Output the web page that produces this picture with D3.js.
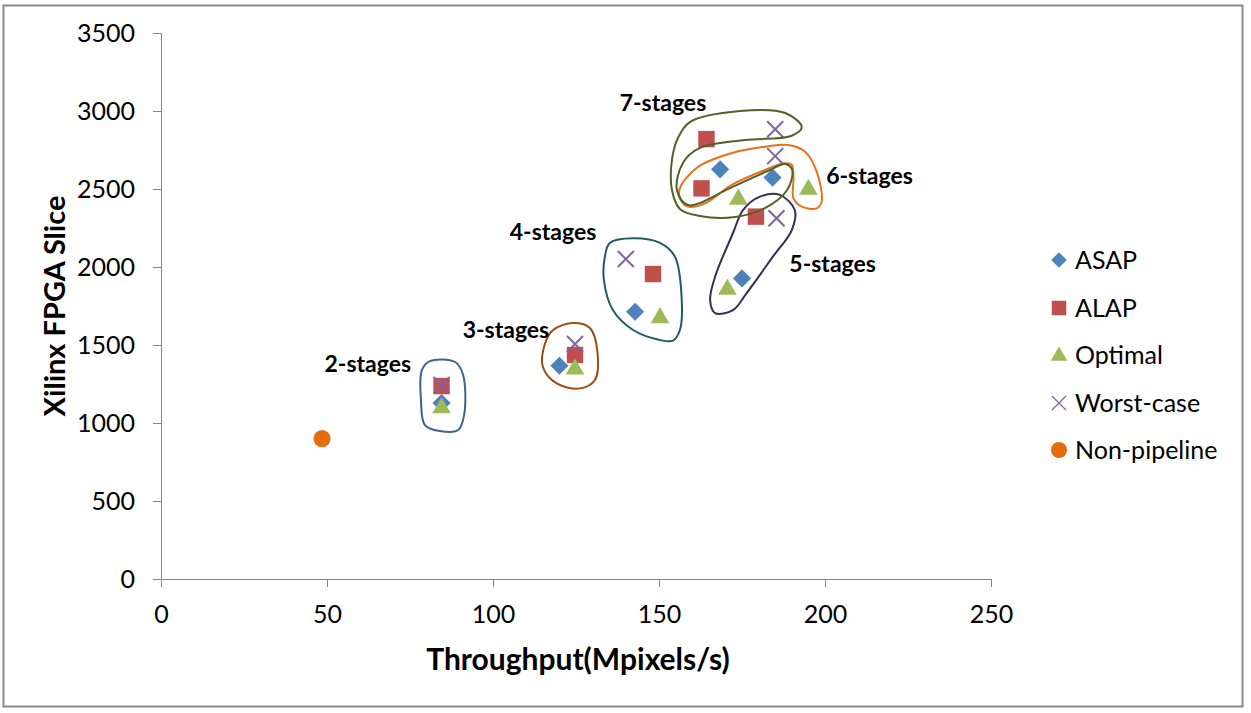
<!DOCTYPE html>
<html>
<head>
<meta charset="utf-8">
<title>Throughput vs slices</title>
<script src="https://d3js.org/d3.v7.min.js"></script>
<style>
  body { margin: 0; background: #fff; }
  text { font-family: Lato, "Noto Sans", sans-serif; }
</style>
</head>
<body>
<svg id="chart" width="1251" height="713"></svg>
<script>
// stage order: 2,3,4,5,6,7
var asapX = [84.5, 120.0, 142.8, 175.0, 168.4, 184.2];
var asapY = [1128, 1367, 1713, 1927, 2626, 2573];
var alapX = [84.5, 124.7, 148.2, 179.2, 162.8, 164.3];
var alapY = [1237, 1436, 1955, 2323, 2504, 2820];
var optX = [84.5, 124.7, 150.3, 170.6, 195.0, 173.9];
var optY = [1103, 1352, 1681, 1863, 2504, 2440];
var worstX = [84.5, 124.7, 140.0, 185.4, 185.0, 185.0];
var worstY = [1244, 1506, 2051, 2312, 2711, 2883];
var nonPipeX = [48.5];
var nonPipeY = [900];

var xTicks = [0, 50, 100, 150, 200, 250];
var yTicks = [0, 500, 1000, 1500, 2000, 2500, 3000, 3500];

// hand drawn loops around each stage group, in data units
var loop2 = [[81.0,1397],[88.6,1391],[91.0,1308],[91.3,1051],[89.5,955],[84.0,949],[79.5,987],[78.3,1147],[78.6,1340]];
var loop3 = [[118.1,1596],[124.1,1641],[129.2,1609],[131.5,1447],[130.7,1276],[126.2,1222],[119.2,1254],[115.0,1361],[115.7,1511]];
var loop4 = [[135.2,2154],[142.2,2184],[150.3,2154],[154.8,2066],[156.8,1810],[156.3,1596],[154.2,1528],[150.3,1532],[142.2,1596],[136.1,1724],[133.4,1917],[133.7,2066]];
var loop5 = [[186.4,2462],[190.9,2365],[190.0,2237],[184.3,2066],[176.4,1833],[172.3,1724],[166.9,1705],[165.4,1788],[166.9,1938],[172.3,2218],[175.3,2365],[180.4,2451]];
var loop6 = [[156.3,2506],[161.7,2641],[172.0,2731],[181.9,2771],[188.9,2782],[194.0,2739],[197.5,2611],[199.0,2419],[197.5,2376],[193.0,2387],[190.5,2440],[190.5,2569],[190.0,2654],[188.0,2665],[181.9,2622],[171.9,2526],[163.9,2408],[158.7,2387],[156.3,2442]];
var loop7 = [[159.3,2929],[174.4,3000],[188.0,2987],[193.0,2897],[189.8,2840],[175.9,2814],[162.3,2763],[157.2,2667],[155.4,2494],[158.7,2397],[171.4,2506],[183.4,2622],[188.0,2660],[190.1,2622],[188.6,2494],[181.9,2378],[172.9,2321],[162.3,2327],[156.3,2372],[153.9,2494],[153.9,2686],[155.7,2827]];

var stageLabels = ["2-stages", "3-stages", "4-stages", "5-stages", "6-stages", "7-stages"];
var labelX = [62.3, 103.9, 118.1, 202.3, 213.4, 151.2];
var labelY = [1378, 1596, 2224, 2019, 2583, 3051];

var seriesNames = ["ASAP", "ALAP", "Optimal", "Worst-case", "Non-pipeline"];

var svg = d3.select("#chart");

var x = d3.scaleLinear().domain([0, 250]).range([161, 991]);
var y = d3.scaleLinear().domain([0, 3500]).range([579, 33]);

// outer frame
svg.append("rect")
  .attr("x", 3.5).attr("y", 5.5)
  .attr("width", 1239).attr("height", 701)
  .attr("fill", "#fff").attr("stroke", "#8a8a8a").attr("stroke-width", 2);

var xAxis = svg.append("g")
  .attr("transform", "translate(0," + y(0) + ")")
  .call(d3.axisBottom(x).tickValues(xTicks).tickSize(8).tickPadding(18).tickSizeOuter(0));
var yAxis = svg.append("g")
  .attr("transform", "translate(" + x(0) + ",0)")
  .call(d3.axisLeft(y).tickValues(yTicks).tickFormat(d3.format("d")).tickSize(8).tickPadding(18).tickSizeOuter(0));

[xAxis, yAxis].forEach(function(g) {
  g.select(".domain").attr("stroke", "#868686");
  g.selectAll(".tick line").attr("stroke", "#868686");
  g.selectAll(".tick text").attr("fill", "#000").style("font-size", "25px");
});
// excel runs the axis line a bit past the y axis
xAxis.select(".domain").attr("d", "M" + (x(0) - 8) + ",0.5H" + x(250));

svg.append("text")
  .attr("x", 578).attr("y", 670)
  .attr("text-anchor", "middle")
  .style("font-size", "30px").style("font-weight", "bold")
  .text("Throughput(Mpixels/s)");

svg.append("text")
  .attr("transform", "translate(65,306) rotate(-90)")
  .attr("text-anchor", "middle")
  .style("font-size", "29px").style("font-weight", "bold")
  .text("Xilinx FPGA Slice");

function zip(xs, ys) { return xs.map(function(v, i) { return [v, ys[i]]; }); }

var sq = d3.symbol().type(d3.symbolSquare);
var tri = d3.symbol().type(d3.symbolTriangle);
var circ = d3.symbol().type(d3.symbolCircle);

function drawDiamond(g, pts, size) {
  g.selectAll(null).data(pts).enter().append("path")
    .attr("d", sq.size(size)())
    .attr("transform", function(d) { return "translate(" + x(d[0]) + "," + y(d[1]) + ") rotate(45)"; })
    .attr("fill", "#4f81bd");
}
function drawSquare(g, pts, size) {
  g.selectAll(null).data(pts).enter().append("path")
    .attr("d", sq.size(size)())
    .attr("transform", function(d) { return "translate(" + x(d[0]) + "," + y(d[1]) + ")"; })
    .attr("fill", "#c0504d");
}
function drawTri(g, pts, size) {
  g.selectAll(null).data(pts).enter().append("path")
    .attr("d", tri.size(size)())
    .attr("transform", function(d) { return "translate(" + x(d[0]) + "," + (y(d[1]) + 1) + ")"; })
    .attr("fill", "#9bbb59");
}
function drawX(g, pts, r) {
  g.selectAll(null).data(pts).enter().append("path")
    .attr("d", "M" + (-r) + "," + (-r) + "L" + r + "," + r + "M" + (-r) + "," + r + "L" + r + "," + (-r))
    .attr("transform", function(d) { return "translate(" + x(d[0]) + "," + y(d[1]) + ")"; })
    .attr("stroke", "#8064a2").attr("stroke-width", 2).attr("fill", "none");
}
function drawDot(g, pts, size) {
  g.selectAll(null).data(pts).enter().append("path")
    .attr("d", circ.size(size)())
    .attr("transform", function(d) { return "translate(" + x(d[0]) + "," + y(d[1]) + ")"; })
    .attr("fill", "#e46c0a");
}

var marks = svg.append("g");
drawDiamond(marks, zip(asapX, asapY), 165);
drawSquare(marks, zip(alapX, alapY), 270);
drawTri(marks, zip(optX, optY), 150);
drawX(marks, zip(worstX, worstY), 8);
drawDot(marks, zip(nonPipeX, nonPipeY), 230);

// loops
var loopLine = d3.line()
  .x(function(d) { return x(d[0]); })
  .y(function(d) { return y(d[1]); })
  .curve(d3.curveCatmullRomClosed.alpha(0.5));

var loops = [loop2, loop3, loop4, loop5, loop6, loop7];
var loopColors = ["#41628f", "#9c4d10", "#1f5c66", "#3b2b52", "#e8711b", "#4f6228"];
svg.append("g").selectAll("path").data(loops).enter().append("path")
  .attr("d", loopLine)
  .attr("fill", "none")
  .attr("stroke", function(d, i) { return loopColors[i]; })
  .attr("stroke-width", 2);

svg.append("g").selectAll("text").data(stageLabels).enter().append("text")
  .attr("x", function(d, i) { return x(labelX[i]); })
  .attr("y", function(d, i) { return y(labelY[i]); })
  .attr("dy", "0.35em")
  .attr("text-anchor", "middle")
  .style("font-size", "23px").style("font-weight", "bold")
  .text(function(d) { return d; });

// legend
var legY = [260, 308, 355, 403, 450];
var leg = svg.append("g");
seriesNames.forEach(function(name, i) {
  var g = leg.append("g");
  var p = [[x.invert(1059), y.invert(legY[i])]];
  if (i == 0) drawDiamond(g, p, 120);
  if (i == 1) drawSquare(g, p, 210);
  if (i == 2) drawTri(g, p, 120);
  if (i == 3) { drawX(g, p, 7); g.select("path").attr("stroke-width", 1.2); }
  if (i == 4) drawDot(g, p, 200);
  g.append("text")
    .attr("x", 1075).attr("y", legY[i])
    .attr("dy", "0.35em")
    .style("font-size", "25px")
    .text(name);
});
</script>
</body>
</html>
